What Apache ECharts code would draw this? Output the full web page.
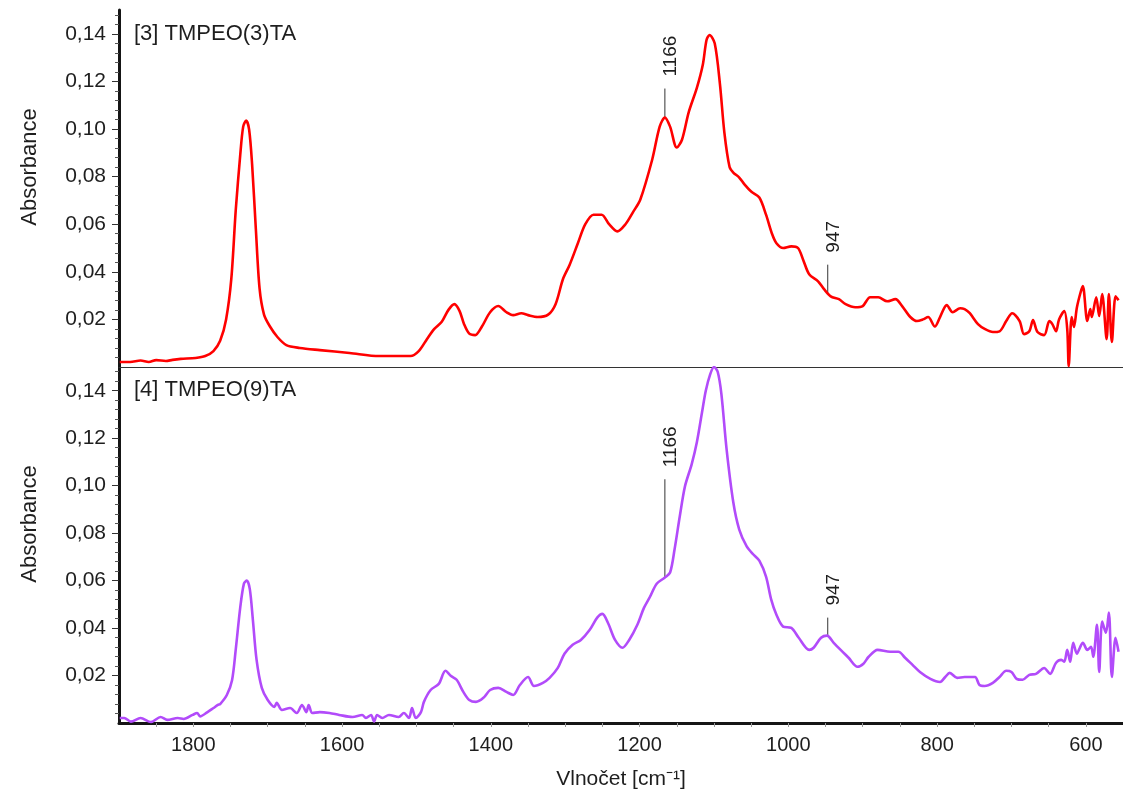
<!DOCTYPE html>
<html>
<head>
<meta charset="utf-8">
<title>FTIR TMPEO(3)TA / TMPEO(9)TA</title>
<script src="https://cdn.jsdelivr.net/npm/echarts@6/dist/echarts.min.js"></script>
<style>
  html, body { margin: 0; padding: 0; background: #ffffff; }
  #chart { width: 1123px; height: 791px; }
</style>
</head>
<body>
<div id="chart"></div>
<script>
// Spectrum [3] TMPEO(3)TA : wavenumber (cm-1) and absorbance
const wavenumbers3 = [1899, 1885, 1871, 1860, 1850, 1837, 1828, 1817, 1797, 1784, 1773, 1764, 1756, 1749, 1743, 1737, 1733, 1729, 1725, 1721, 1716, 1711, 1705, 1697, 1687, 1675, 1657, 1630, 1590, 1550, 1508, 1497, 1486, 1476, 1466, 1457, 1449, 1442, 1436, 1429, 1421, 1412, 1401, 1390, 1379, 1370, 1359, 1350, 1337, 1323, 1313, 1303, 1294, 1283, 1273, 1262, 1251, 1241, 1230, 1219, 1209, 1199, 1183, 1173, 1166, 1159, 1150, 1143, 1134, 1123, 1115, 1110, 1106, 1099, 1092, 1086, 1079, 1074, 1066, 1059, 1050, 1039, 1030, 1022, 1016, 1007, 996, 987, 980, 972, 960, 952, 943, 932, 923, 910, 900, 890, 879, 867, 856, 847, 836, 827, 819, 812, 803, 796, 787, 779, 769, 763, 756, 745, 736, 725, 716, 707, 699, 689, 683, 676, 671, 665, 656, 649, 645, 640, 636, 629, 625, 623, 619, 616, 612, 607, 604, 598, 594, 592, 586, 582, 578, 572, 569, 565, 560, 556];
const absorbance3 = [0.0021, 0.0021, 0.0027, 0.0021, 0.0029, 0.0025, 0.0030, 0.0034, 0.0038, 0.0046, 0.0067, 0.011, 0.020, 0.037, 0.066, 0.089, 0.101, 0.1035, 0.0997, 0.085, 0.058, 0.033, 0.022, 0.017, 0.0126, 0.0092, 0.008, 0.0071, 0.0059, 0.0046, 0.0046, 0.0067, 0.0117, 0.016, 0.019, 0.024, 0.0264, 0.0235, 0.018, 0.014, 0.0134, 0.017, 0.023, 0.0256, 0.023, 0.0218, 0.0226, 0.0218, 0.021, 0.022, 0.0264, 0.037, 0.043, 0.052, 0.060, 0.064, 0.064, 0.060, 0.057, 0.060, 0.065, 0.0704, 0.0872, 0.101, 0.1048, 0.101, 0.0922, 0.0955, 0.107, 0.1173, 0.127, 0.1374, 0.1395, 0.136, 0.119, 0.0985, 0.084, 0.0817, 0.0796, 0.0767, 0.0737, 0.0712, 0.064, 0.056, 0.052, 0.050, 0.0507, 0.050, 0.045, 0.039, 0.036, 0.0327, 0.0297, 0.0285, 0.0264, 0.0251, 0.0256, 0.0293, 0.0293, 0.0276, 0.0285, 0.0256, 0.021, 0.0193, 0.020, 0.021, 0.017, 0.021, 0.026, 0.023, 0.0247, 0.0243, 0.0226, 0.018, 0.016, 0.0147, 0.015, 0.0193, 0.0226, 0.0193, 0.0138, 0.015, 0.0197, 0.0147, 0.0134, 0.0193, 0.018, 0.015, 0.020, 0.0235, 0.016, 0.0004, 0.021, 0.0168, 0.025, 0.0314, 0.034, 0.0193, 0.0243, 0.021, 0.0293, 0.0214, 0.0306, 0.0117, 0.0306, 0.0105, 0.0297, 0.028];

// Spectrum [4] TMPEO(9)TA : wavenumber (cm-1) and absorbance
const wavenumbers9 = [1899, 1893, 1884, 1871, 1857, 1844, 1835, 1821, 1813, 1801, 1795, 1791, 1781, 1773, 1767, 1764, 1755, 1748, 1743, 1737, 1732, 1728, 1724, 1720, 1715, 1708, 1700, 1691, 1688, 1681, 1670, 1661, 1654, 1648, 1645, 1640, 1630, 1617, 1604, 1586, 1573, 1568, 1561, 1557, 1553, 1546, 1537, 1524, 1517, 1510, 1506, 1501, 1494, 1490, 1481, 1470, 1461, 1454, 1446, 1437, 1429, 1420, 1410, 1401, 1390, 1379, 1370, 1361, 1350, 1342, 1330, 1321, 1310, 1301, 1290, 1279, 1267, 1257, 1250, 1242, 1233, 1223, 1214, 1203, 1194, 1186, 1177, 1166, 1159, 1153, 1146, 1139, 1130, 1123, 1116, 1111, 1105, 1100, 1095, 1090, 1083, 1074, 1066, 1056, 1047, 1039, 1030, 1023, 1016, 1007, 996, 986, 972, 966, 956, 948, 939, 927, 919, 907, 899, 892, 880, 863, 852, 843, 833, 823, 809, 796, 789, 783, 773, 763, 749, 743, 736, 725, 716, 707, 700, 693, 685, 676, 667, 656, 648, 640, 633, 629, 625, 621, 617, 612, 608, 604, 598, 593, 590, 585, 582, 578, 573, 569, 565, 560, 556];
const absorbance9 = [0.0021, 0.0021, 0.0006, 0.0021, 0.0004, 0.0025, 0.0013, 0.0021, 0.0017, 0.0034, 0.0042, 0.0028, 0.0046, 0.0063, 0.0076, 0.008, 0.0118, 0.018, 0.031, 0.0486, 0.0587, 0.060, 0.0562, 0.0435, 0.0266, 0.0148, 0.0097, 0.0068, 0.0085, 0.0055, 0.0063, 0.0042, 0.0076, 0.0046, 0.0076, 0.0042, 0.0046, 0.0042, 0.0034, 0.0025, 0.0034, 0.0021, 0.0034, 0.0006, 0.0034, 0.0021, 0.0034, 0.0025, 0.0042, 0.0021, 0.0063, 0.0021, 0.0046, 0.0089, 0.0139, 0.0165, 0.022, 0.0199, 0.0182, 0.0131, 0.0097, 0.0089, 0.0106, 0.0139, 0.0148, 0.0131, 0.0118, 0.016, 0.0194, 0.0156, 0.0169, 0.019, 0.0232, 0.0292, 0.033, 0.035, 0.0393, 0.0444, 0.046, 0.0418, 0.035, 0.0317, 0.035, 0.0414, 0.0486, 0.0532, 0.0587, 0.0613, 0.0634, 0.0731, 0.087, 0.0997, 0.109, 0.1183, 0.131, 0.140, 0.147, 0.150, 0.148, 0.1386, 0.1153, 0.093, 0.0815, 0.0744, 0.071, 0.0684, 0.0617, 0.052, 0.0456, 0.0406, 0.0401, 0.0359, 0.0308, 0.0317, 0.0359, 0.0368, 0.0338, 0.030, 0.0275, 0.0237, 0.025, 0.0279, 0.0308, 0.030, 0.030, 0.0275, 0.0245, 0.0215, 0.0186, 0.0173, 0.0194, 0.0211, 0.019, 0.0194, 0.0194, 0.016, 0.0156, 0.0169, 0.0194, 0.022, 0.0215, 0.0186, 0.0182, 0.0203, 0.0207, 0.0232, 0.0207, 0.0254, 0.0266, 0.0258, 0.0308, 0.0258, 0.0338, 0.0292, 0.0317, 0.0338, 0.0308, 0.0321, 0.0279, 0.0414, 0.0215, 0.0427, 0.038, 0.0465, 0.0194, 0.0359, 0.030];

// Annotated bands: [wavenumber, absorbance at the band, top of the leader line]
const peaks3 = [[1166, 0.1048, 0.117], [947, 0.031, 0.043]];
const peaks9 = [[1166, 0.0613, 0.1027], [947, 0.0368, 0.0444]];

// Axis ticks and labels
const xLabelValues = [1800, 1600, 1400, 1200, 1000, 800, 600];
const xTickValues = [1850, 1800, 1750, 1700, 1650, 1600, 1550, 1500, 1450, 1400, 1350, 1300, 1250, 1200, 1150, 1100, 1050, 1000, 950, 900, 850, 800, 750, 700, 650, 600];
const yLabelValues = [0.02, 0.04, 0.06, 0.08, 0.10, 0.12, 0.14];
const yMinorValues = [0.004, 0.008, 0.012, 0.016, 0.024, 0.028, 0.032, 0.036, 0.044, 0.048, 0.052, 0.056, 0.064, 0.068, 0.072, 0.076, 0.084, 0.088, 0.092, 0.096, 0.104, 0.108, 0.112, 0.116, 0.124, 0.128, 0.132, 0.136, 0.144, 0.148];

const titles = ['[3] TMPEO(3)TA', '[4] TMPEO(9)TA'];
const yName = 'Absorbance';
const xName = 'Vlnočet [cm\u207B\u00B9]';

const FONT = "'Liberation Sans', Arial, Helvetica, sans-serif";
const TEXT = '#1e1e1e';
const RED = '#ff0000';
const PURPLE = '#b24bfa';

const X_MIN = 550, X_MAX = 1900, Y_MIN = 0, Y_MAX = 0.15;

function pairs(xs, ys) { return xs.map((x, i) => [x, ys[i]]); }
function comma(v) { return v.toFixed(2).replace('.', ','); }

function renderPeakMark(params, api) {
  const wn = api.value(0);
  const p0 = api.coord([wn, api.value(1)]);
  const p1 = api.coord([wn, api.value(2)]);
  return {
    type: 'group',
    children: [
      { type: 'line', shape: { x1: p0[0], y1: p0[1], x2: p1[0], y2: p1[1] },
        style: { stroke: '#333333', lineWidth: 1 } },
      { type: 'text', x: p1[0] + 6, y: p1[1] - 12, rotation: Math.PI / 2,
        style: { text: String(wn), fill: TEXT, font: '19px ' + FONT,
                 align: 'left', verticalAlign: 'middle' } }
    ]
  };
}

const grids = [
  { left: 119, right: -5, top: 10, height: 357 },
  { left: 119, right: -5, top: 367, height: 357 }
];

function xAxisFor(gridIndex, isBottom) {
  return {
    type: 'value', gridIndex, min: X_MIN, max: X_MAX, inverse: true,
    splitLine: { show: false },
    axisLine: { show: true, onZero: false,
      lineStyle: isBottom ? { color: '#151515', width: 3 } : { color: '#333333', width: 1 } },
    axisTick: { show: isBottom, customValues: xTickValues, length: 4, lineStyle: { color: '#9a9a9a', width: 1 } },
    axisLabel: { show: isBottom, customValues: xLabelValues, margin: 12, color: TEXT,
      fontFamily: FONT, fontSize: 20, formatter: v => String(v) },
    name: isBottom ? xName : '', nameLocation: 'middle', nameGap: 46,
    nameTextStyle: { color: TEXT, fontFamily: FONT, fontSize: 21 }
  };
}

function yAxisMajor(gridIndex) {
  return {
    type: 'value', gridIndex, min: Y_MIN, max: Y_MAX, position: 'left',
    splitLine: { show: false },
    axisLine: { show: true, onZero: false, lineStyle: { color: '#151515', width: 3 } },
    axisTick: { show: true, customValues: yLabelValues, length: 7, lineStyle: { color: '#333333', width: 1 } },
    axisLabel: { show: true, customValues: yLabelValues, margin: 13, color: TEXT,
      fontFamily: FONT, fontSize: 21, formatter: comma }
  };
}

function yAxisMinor(gridIndex) {
  return {
    type: 'value', gridIndex, min: Y_MIN, max: Y_MAX, position: 'left',
    splitLine: { show: false },
    axisLine: { show: false },
    axisTick: { show: true, customValues: yMinorValues, length: 4, lineStyle: { color: '#555555', width: 1 } },
    axisLabel: { show: false }
  };
}

function spectrum(data, color, xi, yi) {
  return {
    type: 'line', xAxisIndex: xi, yAxisIndex: yi, data,
    showSymbol: false, smooth: 0.3, animation: false, clip: true,
    lineStyle: { color, width: 2.6, join: 'round' }
  };
}

function peakSeries(data, xi, yi) {
  return {
    type: 'custom', xAxisIndex: xi, yAxisIndex: yi, data,
    encode: { x: 0, y: [1, 2] }, renderItem: renderPeakMark, animation: false, clip: false, silent: true
  };
}

const chart = echarts.init(document.getElementById('chart'), null, { renderer: 'canvas' });
chart.setOption({
  backgroundColor: '#ffffff',
  animation: false,
  grid: grids,
  xAxis: [xAxisFor(0, false), xAxisFor(1, true)],
  yAxis: [yAxisMajor(0), yAxisMinor(0), yAxisMajor(1), yAxisMinor(1)],
  series: [
    spectrum(pairs(wavenumbers3, absorbance3), RED, 0, 0),
    spectrum(pairs(wavenumbers9, absorbance9), PURPLE, 1, 2),
    peakSeries(peaks3, 0, 0),
    peakSeries(peaks9, 1, 2)
  ],
  graphic: [
    { type: 'text', left: 134, top: 23, style: { text: titles[0], fill: TEXT, font: '22px ' + FONT } },
    { type: 'text', left: 134, top: 379, style: { text: titles[1], fill: TEXT, font: '22px ' + FONT } },
    { type: 'text', x: 30, y: 167, rotation: Math.PI / 2,
      style: { text: yName, fill: TEXT, font: '22px ' + FONT, align: 'center', verticalAlign: 'middle' } },
    { type: 'text', x: 30, y: 524, rotation: Math.PI / 2,
      style: { text: yName, fill: TEXT, font: '22px ' + FONT, align: 'center', verticalAlign: 'middle' } }
  ]
});
</script>
</body>
</html>
